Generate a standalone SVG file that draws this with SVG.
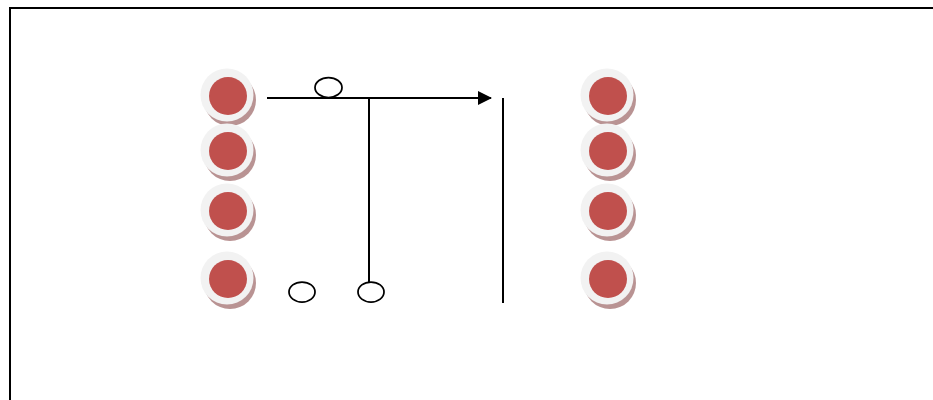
<svg xmlns="http://www.w3.org/2000/svg" width="933" height="400" viewBox="0 0 933 400">
<style>
.shadow{fill:#b99393}
.ring{fill:#f2f2f2}
.core{fill:#c0504d}
.ln{stroke:#000;stroke-width:2;fill:none}
.sm{stroke:#000;stroke-width:1.75;fill:#fff}
</style>
<defs>
<g id="dot">
<circle class="shadow" cx="3" cy="5" r="26"/>
<circle class="ring" cx="0" cy="0" r="26.5"/>
<circle class="core" cx="1" cy="1" r="19"/>
</g>
<marker id="ah" viewBox="0 0 14 14" refX="13" refY="7" markerWidth="14" markerHeight="14" markerUnits="userSpaceOnUse" orient="auto">
<path d="M0,0 L14,7 L0,14 Z" fill="#000"/>
</marker>
</defs>
<rect x="0" y="0" width="933" height="400" fill="#fff"/>
<path d="M10,400 V8 H933" stroke="#000" stroke-width="2" fill="none"/>
<g id="L1"><use href="#dot" x="227" y="95"/></g>
<g id="L2"><use href="#dot" x="227" y="150"/></g>
<g id="L3"><use href="#dot" x="227" y="210"/></g>
<g id="L4"><use href="#dot" x="227" y="278"/></g>
<g id="R1"><use href="#dot" x="607" y="95"/></g>
<g id="R2"><use href="#dot" x="607" y="150"/></g>
<g id="R3"><use href="#dot" x="607" y="210"/></g>
<g id="R4"><use href="#dot" x="607" y="278"/></g>
<g id="connectors">
<line class="ln" x1="267" y1="98" x2="491" y2="98" marker-end="url(#ah)"/>
<line class="ln" x1="369" y1="98" x2="369" y2="282"/>
<line class="ln" x1="503" y1="98" x2="503" y2="303"/>
</g>
<g id="E1"><ellipse class="sm" cx="328.5" cy="87.5" rx="13.5" ry="10"/></g>
<g id="E2"><ellipse class="sm" cx="302" cy="292" rx="13" ry="10"/></g>
<g id="E3"><ellipse class="sm" cx="371" cy="292" rx="13" ry="10"/></g>
</svg>
